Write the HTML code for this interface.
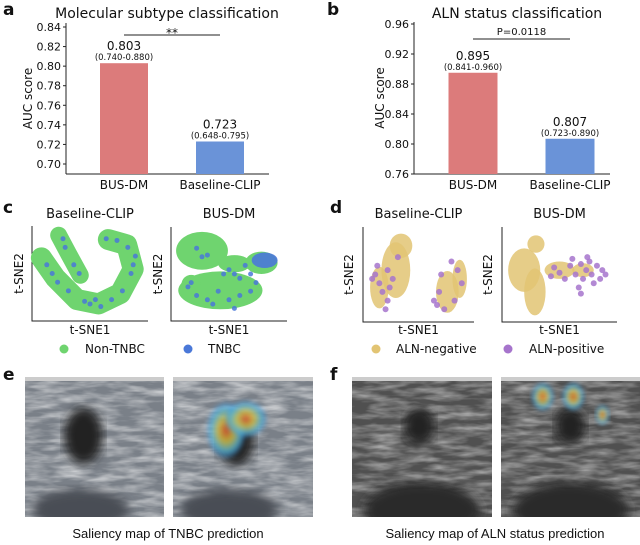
<!DOCTYPE html>
<html><head><meta charset="utf-8">
<style>
html,body{margin:0;padding:0;background:#fff;width:640px;height:545px;overflow:hidden;}
svg{display:block;font-family:"DejaVu Sans","Liberation Sans",sans-serif;}
</style></head>
<body>
<svg id="fig" width="640" height="545" viewBox="0 0 640 545">
<defs>
  <filter id="noise" x="0" y="0" width="100%" height="100%">
    <feTurbulence type="fractalNoise" baseFrequency="0.035 0.16" numOctaves="3" seed="4" result="t"/>
    <feColorMatrix in="t" type="matrix" values="0 0 0 0 1  0 0 0 0 1  0 0 0 0 1  1.8 0 0 0 -0.6"/>
  </filter>
  <filter id="blur3"><feGaussianBlur stdDeviation="5"/></filter>
  <filter id="blur2"><feGaussianBlur stdDeviation="2"/></filter>
  <radialGradient id="heat"><stop offset="0" stop-color="#e05030"/><stop offset="0.4" stop-color="#d0c040"/><stop offset="0.75" stop-color="#50b0d0"/><stop offset="1" stop-color="#4090e0" stop-opacity="0.3"/></radialGradient>
</defs>
<g id="root"></g>
</svg>
<script>
// ---- data ----
const barCats = ["BUS-DM", "Baseline-CLIP"];
const aucA = [0.803, 0.723];
const ciA = ["(0.740-0.880)", "(0.648-0.795)"];
const ticksA = [0.70, 0.72, 0.74, 0.76, 0.78, 0.80, 0.82, 0.84];
const aucB = [0.895, 0.807];
const ciB = ["(0.841-0.960)", "(0.723-0.890)"];
const ticksB = [0.76, 0.80, 0.84, 0.88, 0.92, 0.96];
// t-SNE cluster regions (axis fractions)
const cLeftArm = [[0.05,0.68],[0.18,0.45],[0.38,0.2],[0.58,0.15],[0.78,0.27],[0.9,0.55],[0.84,0.83],[0.67,0.89]];
const cInnerArm = [[0.21,0.94],[0.3,0.73],[0.41,0.48]];
const cLeftBlue = [[0.1,0.6],[0.2,0.4],[0.3,0.3],[0.45,0.18],[0.55,0.2],[0.7,0.2],[0.8,0.3],[0.88,0.5],[0.9,0.6],[0.85,0.8],[0.75,0.88],[0.65,0.9],[0.27,0.8],[0.35,0.6],[0.4,0.5],[0.6,0.12],[0.15,0.5],[0.5,0.15],[0.92,0.7],[0.25,0.9]];
const cRightBlobs = [[0.25,0.77,0.24,0.22],[0.42,0.31,0.39,0.22],[0.15,0.38,0.09,0.11],[0.55,0.62,0.15,0.1],[0.8,0.63,0.15,0.13]];
const cRightBlueBlob = [[0.83,0.66,0.12,0.09]];
const cRightBlue = [[0.2,0.8],[0.25,0.7],[0.3,0.72],[0.5,0.55],[0.55,0.5],[0.6,0.45],[0.4,0.3],[0.3,0.2],[0.5,0.2],[0.6,0.25],[0.7,0.3],[0.15,0.4],[0.12,0.35],[0.45,0.5],[0.65,0.6],[0.7,0.5],[0.35,0.15],[0.75,0.4],[0.2,0.25],[0.55,0.1]];
const dLeftNeg = [[0.28,0.55,0.14,0.32],[0.33,0.83,0.11,0.14],[0.12,0.35,0.09,0.24],[0.78,0.3,0.11,0.24],[0.9,0.45,0.07,0.22]];
const dLeftPos = [[0.08,0.5],[0.12,0.4],[0.15,0.3],[0.2,0.2],[0.1,0.6],[0.2,0.55],[0.25,0.45],[0.18,0.1],[0.3,0.7],[0.7,0.3],[0.68,0.15],[0.75,0.1],[0.85,0.2],[0.92,0.4],[0.88,0.55],[0.82,0.65],[0.72,0.5],[0.65,0.2],[0.05,0.45],[0.22,0.35]];
const dRightNeg = [[0.17,0.55,0.15,0.25],[0.27,0.3,0.1,0.27],[0.28,0.85,0.08,0.1],[0.5,0.55,0.14,0.1],[0.72,0.55,0.1,0.08]];
const dRightPos = [[0.45,0.58],[0.5,0.52],[0.6,0.6],[0.65,0.5],[0.7,0.62],[0.75,0.55],[0.8,0.5],[0.85,0.6],[0.9,0.55],[0.78,0.65],[0.72,0.45],[0.88,0.45],[0.68,0.35],[0.82,0.4],[0.55,0.45],[0.62,0.68],[0.93,0.5],[0.76,0.7],[0.42,0.48],[0.7,0.28]];

const NS="http://www.w3.org/2000/svg";
const root=document.getElementById('root');
function mk(tag,attrs,parent){const e=document.createElementNS(NS,tag);for(const k in attrs)e.setAttribute(k,attrs[k]);(parent||root).appendChild(e);return e;}
function txt(x,y,s,size,anchor,parent,extra){const e=mk('text',Object.assign({x:x,y:y,'font-size':size,'text-anchor':anchor||'middle',fill:'#111'},extra||{}),parent);e.textContent=s;return e;}

[["a",3,15],["b",327,15],["c",3,213],["d",330,213],["e",3,380],["f",330,380]].forEach(p=>{
  const t=txt(p[1],p[2],p[0],17,'start',root,{'font-weight':'bold'});
  
  
});

function barChart(opt){
  const g=mk('g',{});
  
  
  const y=v=>opt.yBot-(v-opt.vBot)/(opt.vTop-opt.vBot)*(opt.yBot-opt.yTop);
  const axisBottom=opt.axisBottom;
  const ya=mk('line',{x1:opt.x0,y1:opt.axisTop,x2:opt.x0,y2:axisBottom,stroke:'#222','stroke-width':1},g);
  
  
  const xa=mk('line',{x1:opt.x0,y1:axisBottom,x2:opt.x1,y2:axisBottom,stroke:'#222','stroke-width':1},g);
  
  
  opt.ticks.forEach(t=>{
    const py=y(t);
    mk('line',{x1:opt.x0-3,y1:py,x2:opt.x0,y2:py,stroke:'#222'},g);
    const l=txt(opt.x0-5,py+4,t.toFixed(2),11,'end',g);
    
    
  });
  const bw=opt.barW, cols=['#dc7b7b','#6a93d8'];
  opt.vals.forEach((v,i)=>{
    const cx=opt.centers[i];
    const r=mk('rect',{x:cx-bw/2,y:y(v),width:bw,height:axisBottom-y(v),fill:cols[i]},g);
    
    
    const vl=txt(cx,y(v)-13,v.toFixed(3),12,'middle',g);
    
    
    const cl=txt(cx,y(v)-3,opt.ci[i],8.5,'middle',g);
    
    
    const xl=txt(cx,axisBottom+15,barCats[i],12,'middle',g);
    
    
  });
  const yl=txt(0,0,'AUC score',12,'middle',g,{transform:`translate(${opt.ylabX},${(opt.axisTop+axisBottom)/2}) rotate(-90)`});
  
  
  const tt=txt(opt.titleX,18,opt.title,14,'middle',g);
  
  
  const sl=mk('line',{x1:opt.centers[0],y1:opt.sigY,x2:opt.centers[1],y2:opt.sigY,stroke:'#222'},g);
  
  
  const st=txt((opt.centers[0]+opt.centers[1])/2,opt.sigY-(opt.sig==='**'?-2:4),opt.sig,opt.sig==='**'?12:10,'middle',g);
  
  
}
barChart({name:'chart-molecular-subtype',x0:66,x1:269,axisTop:23,axisBottom:174,yTop:27,yBot:164,vTop:0.84,vBot:0.70,
  ticks:ticksA,vals:aucA,ci:ciA,centers:[124,220],barW:48,ylabX:32,titleX:167,title:'Molecular subtype classification',sigY:35,sig:'**'});
barChart({name:'chart-aln-status',x0:414,x1:610,axisTop:22,axisBottom:174,yTop:24,yBot:174,vTop:0.96,vBot:0.76,
  ticks:ticksB,vals:aucB,ci:ciB,centers:[473,570],barW:49,ylabX:384,titleX:517,title:'ALN status classification',sigY:39,sig:'P=0.0118'});

function tsne(name,x0,x1,yTop,yBot,title,ylabX){
  const g=mk('g',{});
  
  
  const sx=f=>x0+4+f*(x1-x0-8), sy=f=>yBot-4-f*(yBot-yTop-8);
  const ax=mk('path',{d:`M${x0},${yTop} V${yBot} H${x1}`,fill:'none',stroke:'#222'},g);
  
  
  const t=txt((x0+x1)/2,218,title,13,'middle',g);
  
  
  const xl=txt((x0+x1)/2,334,'t-SNE1',12,'middle',g);
  
  
  const yl=txt(0,0,'t-SNE2',12,'middle',g,{transform:`translate(${ylabX},${(yTop+yBot)/2}) rotate(-90)`});
  
  
  return {g,sx,sy,w:x1-x0-8,h:yBot-yTop-8};
}
function blobs(p,arr,color,op,nm){arr.forEach(b=>{const e=mk('ellipse',{cx:p.sx(b[0]),cy:p.sy(b[1]),rx:b[2]*p.w,ry:b[3]*p.h,fill:color,opacity:op},p.g);
  
  });}
function dots(p,arr,color,r,nm){arr.forEach(b=>{const e=mk('circle',{cx:p.sx(b[0]),cy:p.sy(b[1]),r:r,fill:color,opacity:0.85},p.g);
  
  });}
function arm(p,arr,color,w,nm){const d='M'+arr.map(a=>p.sx(a[0])+','+p.sy(a[1])).join(' L');
  const e=mk('path',{d:d,fill:'none',stroke:color,'stroke-width':w,'stroke-linecap':'round','stroke-linejoin':'round'},p.g);
  
  }

const G='#6fd46f',B='#4a78d8',Y='#e2c473',P='#a674cc';
let p=tsne('tsne-c-baseline',32,148,226,321,'Baseline-CLIP',23);
arm(p,cLeftArm,G,21,'non-tnbc-points'); arm(p,cInnerArm,G,17,'non-tnbc-points');
dots(p,cLeftBlue,B,2.5,'tnbc-point');
p=tsne('tsne-c-busdm',171,287,227,321,'BUS-DM',162);
blobs(p,cRightBlobs,G,1,'non-tnbc-points'); blobs(p,cRightBlueBlob,B,0.9,'tnbc-points');
dots(p,cRightBlue,B,2.5,'tnbc-point');
p=tsne('tsne-d-baseline',363,474,227,322,'Baseline-CLIP',353);
blobs(p,dLeftNeg,Y,0.85,'aln-negative-points'); dots(p,dLeftPos,P,3,'aln-positive-point');
p=tsne('tsne-d-busdm',502,617,227,322,'BUS-DM',492);
blobs(p,dRightNeg,Y,0.85,'aln-negative-points'); dots(p,dRightPos,P,3,'aln-positive-point');

[[64,85,G,'Non-TNBC'],[188,208,B,'TNBC'],[376,396,Y,'ALN-negative'],[508,529,P,'ALN-positive']].forEach(l=>{
  const c=mk('circle',{cx:l[0],cy:349,r:4.5,fill:l[2]});
  
  
  const t=txt(l[1],353,l[3],12,'start');
  
  
});

function us(name,x,w,dark,lesion,heats){
  const g=mk('g',{});
  
  
  const y=377,h=140;
  const cp='cp'+name;
  const c=mk('clipPath',{id:cp},g); mk('rect',{x:x,y:y,width:w,height:h},c);
  const inner=mk('g',{'clip-path':`url(#${cp})`},g);
  mk('rect',{x:x,y:y,width:w,height:h,fill:dark?'#505050':'#7a8088'},inner);
  mk('rect',{x:x,y:y,width:w,height:h,filter:'url(#noise)',opacity:dark?0.5:0.6},inner);
  mk('rect',{x:x,y:y,width:w,height:4,fill:'#ccc'},inner);
  mk('ellipse',{cx:x+lesion[0]*w,cy:y+lesion[1]*h,rx:lesion[2]*w,ry:lesion[3]*h,fill:'#202020',filter:'url(#blur3)'},inner);
  if(dark){mk('ellipse',{cx:x+0.5*w,cy:y+0.95*h,rx:0.42*w,ry:0.2*h,fill:'#2a2a2a',filter:'url(#blur3)'},inner);}
  else{mk('ellipse',{cx:x+0.4*w,cy:y+0.95*h,rx:0.35*w,ry:0.15*h,fill:'#4a4e55',filter:'url(#blur3)'},inner);}
  heats.forEach(hh=>{const e=mk('ellipse',{cx:x+hh[0]*w,cy:y+hh[1]*h,rx:hh[2]*w,ry:hh[3]*h,fill:'url(#heat)',opacity:0.85,filter:'url(#blur2)'},inner);
    
    });
}
us('ultrasound-tnbc',25,139,false,[0.42,0.42,0.14,0.2],[]);
us('ultrasound-tnbc-saliency',173,140,false,[0.45,0.45,0.13,0.18],[[0.38,0.38,0.14,0.2],[0.52,0.3,0.15,0.13]]);
us('ultrasound-aln',352,140,true,[0.48,0.35,0.11,0.13],[]);
us('ultrasound-aln-saliency',501,139,true,[0.5,0.35,0.11,0.13],[[0.3,0.14,0.08,0.1],[0.52,0.14,0.08,0.1],[0.73,0.27,0.05,0.07]]);

const cap1=txt(168,538,'Saliency map of TNBC prediction',13,'middle',root,{'font-family':'Liberation Sans, sans-serif'});


const cap2=txt(495,538,'Saliency map of ALN status prediction',13,'middle',root,{'font-family':'Liberation Sans, sans-serif'});


</script>
</body></html>
